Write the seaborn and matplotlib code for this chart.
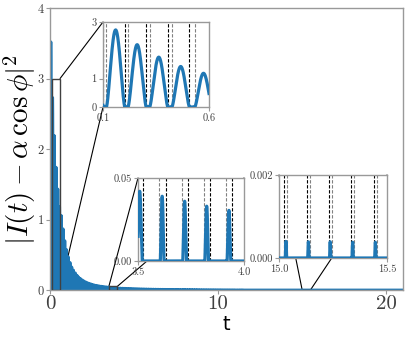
import numpy as np
import pandas as pd
import matplotlib
matplotlib.use('Agg')
import matplotlib.pyplot as plt
import seaborn as sns
from matplotlib.patches import Rectangle, ConnectionPatch
from matplotlib.ticker import FormatStrFormatter

# envelope of the pulse peaks
env_t = [0.055, 0.16, 0.26, 0.36, 0.47, 0.57, 0.69, 0.79, 0.89, 1.09, 1.29, 1.68,
         2.08, 2.67, 3.26, 3.51, 3.93, 15.0, 21.0]
env_peak = [3.52, 2.72, 2.2, 1.76, 1.43, 1.19, 1.04, 0.85, 0.69, 0.47, 0.33, 0.19,
            0.12, 0.07, 0.047, 0.042, 0.0305, 0.0004, 0.0002]
# width of the non-zero part of each pulse
wid_t = [0.055, 0.16, 0.47, 0.57, 3.5, 15.2]
wid = [0.095, 0.088, 0.082, 0.077, 0.022, 0.006]
period = 0.1035

# inset 1 (0.1 - 0.6)
in1_start = [0.005, 0.116, 0.218, 0.320, 0.425, 0.533]
in1_end = [0.102, 0.203, 0.304, 0.406, 0.508, 0.615]
in1_peak = [3.52, 2.72, 2.2, 1.76, 1.43, 1.19]
in1_dash = [0.102, 0.116, 0.203, 0.218, 0.304, 0.320, 0.406, 0.425, 0.508, 0.533]

# inset 2 (3.5 - 4.0)
in2_start = [3.496, 3.605, 3.711, 3.815, 3.920]
in2_end = [3.520, 3.623, 3.729, 3.833, 3.938]
in2_peak = [0.042, 0.039, 0.036, 0.033, 0.0305]
in2_dash = [3.525, 3.601, 3.631, 3.706, 3.734, 3.811, 3.840, 3.917, 3.945]

# inset 3 (15.0 - 15.5)
in3_start = [15.029, 15.133, 15.234, 15.338, 15.443]
in3_end = [15.035, 15.139, 15.240, 15.344, 15.449]
in3_peak = [0.0004, 0.00039, 0.00039, 0.00038, 0.00038]
in3_dash = [15.025, 15.039, 15.129, 15.143, 15.230, 15.244, 15.334, 15.348, 15.439, 15.453]

BLUE = '#1f77b4'


def pulse_train(t, starts, ends, peaks):
    y = np.zeros_like(t)
    for a, b, p in zip(starts, ends, peaks):
        m = (t > a) & (t < b)
        y[m] += p * np.sin(np.pi * (t[m] - a) / (b - a)) ** 1.5
    return y


def main_series():
    centres = np.arange(env_t[0], 21.0, period)
    peaks = np.exp(np.interp(centres, env_t, np.log(env_peak)))
    widths = np.exp(np.interp(centres, wid_t, np.log(wid)))
    t = np.arange(0, 21.0, 0.0005)
    y = pulse_train(t, centres - widths / 2, centres + widths / 2, peaks)
    return pd.DataFrame({'t': t, 'y': y})


def style_axes(ax, size):
    for s in ax.spines.values():
        s.set_color('0.6')
        s.set_linewidth(1.0)
    ax.tick_params(direction='out', length=3, width=0.8, color='0.6',
                   labelcolor='0.25', labelsize=size, pad=1.5)


def add_inset(fig, ax, rect, xlim, ylim, starts, ends, peaks, dashes, fmt_x, fmt_y, yticks,
              corners):
    ins = fig.add_axes(rect)
    t = np.linspace(xlim[0], xlim[1], 3000)
    df = pd.DataFrame({'t': t, 'y': pulse_train(t, starts, ends, peaks)})
    for i, d in enumerate(dashes):
        ins.axvline(d, color='k' if i % 2 == 0 else '0.5', ls='--', lw=0.8,
                    dashes=(3, 1.5), zorder=1)
    sns.lineplot(data=df, x='t', y='y', ax=ins, color=BLUE, lw=2.3, estimator=None,
                 sort=False, zorder=3)
    ins.set_xlim(xlim)
    ins.set_ylim(ylim)
    ins.set_xticks(xlim)
    ins.set_yticks(yticks)
    ins.xaxis.set_major_formatter(FormatStrFormatter(fmt_x))
    ins.yaxis.set_major_formatter(FormatStrFormatter(fmt_y))
    ins.set_xlabel('')
    ins.set_ylabel('')
    style_axes(ins, 7.5)
    ax.add_patch(Rectangle((xlim[0], ylim[0]), xlim[1] - xlim[0], ylim[1] - ylim[0],
                           fill=False, ec='0.25', lw=1.0, zorder=4))
    for a, b in corners:
        con = ConnectionPatch(xyA=a, coordsA=ins.transAxes, xyB=b, coordsB=ax.transData,
                              color='k', lw=0.8)
        ax.add_artist(con)
    return ins


def plot_chart():
    plt.rcParams.update({'font.family': 'cmr10', 'mathtext.fontset': 'cm',
                         'axes.unicode_minus': False})
    fig = plt.figure(figsize=(4.07, 3.4), dpi=100)
    ax = fig.add_axes([50 / 407, 50 / 340, 353 / 407, 282 / 340])
    df = main_series()
    sns.lineplot(data=df, x='t', y='y', ax=ax, color=BLUE, lw=2.0, estimator=None, sort=False,
                 zorder=2)
    ax.set_xlim(0, 21)
    ax.set_ylim(0, 4)
    ax.set_xticks([0, 10, 20])
    ax.set_yticks([0, 1, 2, 3, 4])
    style_axes(ax, 9)
    ax.tick_params(axis='x', labelsize=15, pad=1)
    ax.set_xlabel('t', family='DejaVu Sans', fontsize=14, labelpad=1)
    ax.set_ylabel(r'$\left|I(t)-\alpha\,\cos\phi\right|^2$', fontsize=21, labelpad=0)
    ax.yaxis.set_label_coords(-0.035, 0.5)

    add_inset(fig, ax, [103 / 407, 233 / 340, 106 / 407, 85 / 340], (0.1, 0.6), (0, 3),
              in1_start, in1_end, in1_peak, in1_dash, '%.1f', '%d', [0, 1, 3],
              [((0, 1), (0.6, 3)), ((0, 0), (0.6, 0))])
    add_inset(fig, ax, [138 / 407, 79 / 340, 106 / 407, 83 / 340], (3.5, 4.0), (0, 0.05),
              in2_start, in2_end, in2_peak, in2_dash, '%.1f', '%.2f', [0, 0.05],
              [((0, 1), (3.5, 0.05)), ((1, 1), (4.0, 0.05))])
    add_inset(fig, ax, [279 / 407, 82 / 340, 108 / 407, 83 / 340], (15.0, 15.5), (0, 0.002),
              in3_start, in3_end, in3_peak, in3_dash, '%.1f', '%.3f', [0, 0.002],
              [((0, 1), (15.0, 0.002)), ((1, 1), (15.5, 0.002))])

    fig.savefig('out.png', dpi=100)


if __name__ == '__main__':
    plot_chart()
